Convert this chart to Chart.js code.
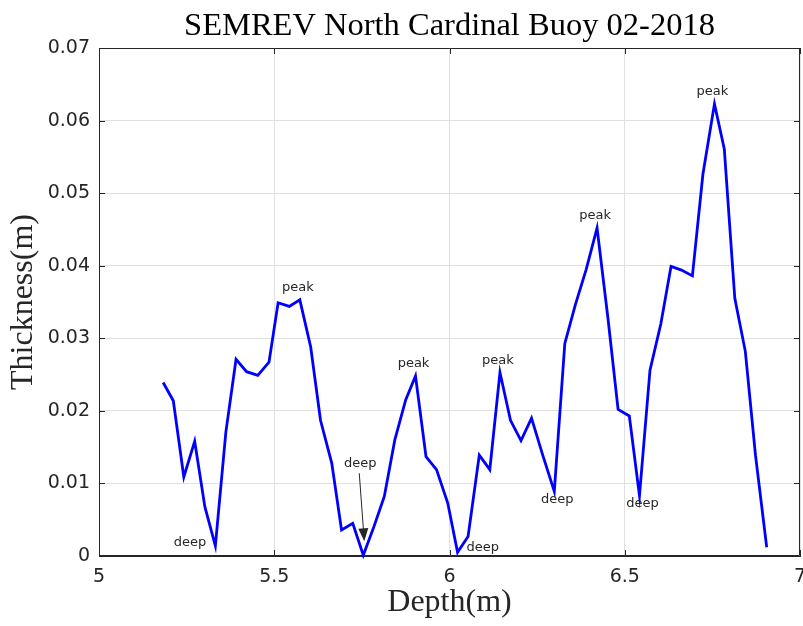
<!DOCTYPE html>
<html>
<head>
<meta charset="utf-8">
<script src="https://cdn.jsdelivr.net/npm/chart.js@4.4.1/dist/chart.umd.min.js"></script>
<style>
  html, body { margin: 0; padding: 0; background: #fff; }
  #wrap { width: 803px; height: 626px; }
</style>
</head>
<body>
<div id="wrap"><canvas id="buoyChart"></canvas></div>
<script>
// Data
const depth = [5.183, 5.212, 5.242, 5.273, 5.302, 5.332, 5.362, 5.391, 5.421, 5.453,
               5.485, 5.511, 5.543, 5.573, 5.604, 5.632, 5.664, 5.692, 5.724, 5.754,
               5.784, 5.814, 5.844, 5.875, 5.903, 5.933, 5.963, 5.995, 6.023, 6.053,
               6.085, 6.115, 6.144, 6.174, 6.204, 6.234, 6.266, 6.299, 6.329, 6.359,
               6.390, 6.421, 6.452, 6.481, 6.513, 6.542, 6.572, 6.603, 6.632, 6.662,
               6.693, 6.723, 6.756, 6.784, 6.814, 6.844, 6.873, 6.905];
const thickness = [0.0239, 0.0214, 0.0109, 0.0158, 0.0068, 0.0014, 0.0171, 0.0271, 0.0254, 0.0249,
                   0.0267, 0.0349, 0.0344, 0.0353, 0.0288, 0.0187, 0.0128, 0.0036, 0.0045, 0.0001,
                   0.0040, 0.0082, 0.0160, 0.0215, 0.0248, 0.0137, 0.0119, 0.0073, 0.0005, 0.0027,
                   0.0139, 0.0119, 0.0253, 0.0187, 0.0159, 0.0190, 0.0139, 0.0089, 0.0293, 0.0346,
                   0.0395, 0.0452, 0.0328, 0.0202, 0.0193, 0.0083, 0.0256, 0.0320, 0.0399, 0.0394,
                   0.0386, 0.0526, 0.0623, 0.0561, 0.0355, 0.0282, 0.0139, 0.0012];
const peakIdx = [13, 24, 32, 41, 52];
const deepIdx = [5, 19, 28, 37, 45];
const deepPlace = ['left', 'arrow', 'right', 'below', 'below'];
const xTicks = [5, 5.5, 6, 6.5, 7];
const yTicks = [0, 0.01, 0.02, 0.03, 0.04, 0.05, 0.06, 0.07];

const axisColor = '#262626';
const labelFont = '13px "DejaVu Sans"';

// MATLAB-like box with inward ticks on all four sides
const boxPlugin = {
    id: 'boxPlugin',
    afterDatasetsDraw(chart) {
        const { ctx, chartArea: a, scales: { x, y } } = chart;
        ctx.save();
        ctx.strokeStyle = axisColor;
        ctx.lineWidth = 1;
        ctx.beginPath();
        ctx.rect(a.left + 0.5, a.top + 0.5, a.right - a.left - 1, a.bottom - a.top - 1);
        xTicks.forEach(v => {
            const px = Math.round(x.getPixelForValue(v)) + 0.5;
            ctx.moveTo(px, a.bottom); ctx.lineTo(px, a.bottom - 6);
            ctx.moveTo(px, a.top); ctx.lineTo(px, a.top + 6);
        });
        yTicks.forEach(v => {
            const py = Math.round(y.getPixelForValue(v)) + 0.5;
            ctx.moveTo(a.left, py); ctx.lineTo(a.left + 6, py);
            ctx.moveTo(a.right, py); ctx.lineTo(a.right - 6, py);
        });
        ctx.stroke();
        ctx.restore();
    }
};

// peak / deep text annotations
const annotate = {
    id: 'annotate',
    afterDatasetsDraw(chart) {
        const { ctx, scales: { x, y } } = chart;
        ctx.save();
        ctx.font = labelFont;
        ctx.fillStyle = axisColor;
        ctx.strokeStyle = axisColor;
        ctx.textBaseline = 'middle';
        ctx.textAlign = 'center';
        peakIdx.forEach(i => {
            ctx.fillText('peak', x.getPixelForValue(depth[i]) - 2, y.getPixelForValue(thickness[i]) - 12);
        });
        deepIdx.forEach((i, k) => {
            const px = x.getPixelForValue(depth[i]);
            const py = y.getPixelForValue(thickness[i]);
            const place = deepPlace[k];
            if (place === 'left') {
                ctx.textAlign = 'right';
                ctx.fillText('deep', px - 9, py - 3);
            } else if (place === 'right') {
                ctx.textAlign = 'left';
                ctx.fillText('deep', px + 9, py - 5);
            } else if (place === 'below') {
                ctx.textAlign = 'center';
                ctx.fillText('deep', px + 3, py + 8);
            } else {
                ctx.textAlign = 'center';
                ctx.fillText('deep', px - 3, py - 92);
                // arrow
                const x0 = px - 4, y0 = py - 82, x1 = px + 1, y1 = py - 14;
                const ang = Math.atan2(y1 - y0, x1 - x0);
                ctx.lineWidth = 1;
                ctx.beginPath();
                ctx.moveTo(x0, y0);
                ctx.lineTo(x1 - 10 * Math.cos(ang), y1 - 10 * Math.sin(ang));
                ctx.stroke();
                ctx.beginPath();
                ctx.moveTo(x1, y1);
                ctx.lineTo(x1 - 13 * Math.cos(ang) + 5 * Math.sin(ang), y1 - 13 * Math.sin(ang) - 5 * Math.cos(ang));
                ctx.lineTo(x1 - 13 * Math.cos(ang) - 5 * Math.sin(ang), y1 - 13 * Math.sin(ang) + 5 * Math.cos(ang));
                ctx.closePath();
                ctx.fill();
            }
        });
        ctx.restore();
    }
};

const ctx = document.getElementById('buoyChart').getContext('2d');
new Chart(ctx, {
    type: 'line',
    data: {
        datasets: [{
            data: depth.map((d, i) => ({ x: d, y: thickness[i] })),
            borderColor: '#0000ff',
            borderWidth: 2.8,
            pointRadius: 0,
            tension: 0,
            fill: false,
            clip: false
        }]
    },
    options: {
        responsive: true,
        maintainAspectRatio: false,
        animation: false,
        layout: { padding: 0 },
        plugins: {
            legend: { display: false },
            tooltip: { enabled: false },
            title: {
                display: true,
                fullSize: false,
                text: 'SEMREV North Cardinal Buoy 02-2018',
                color: '#000',
                font: { family: '"Liberation Serif"', size: 32.5, weight: 'normal' },
                padding: { top: 7, bottom: 2 }
            }
        },
        scales: {
            x: {
                type: 'linear',
                min: 5,
                max: 7,
                afterBuildTicks: s => { s.ticks = xTicks.map(v => ({ value: v })); },
                afterFit: s => { s.height = 70; s.paddingRight = 3; },
                grid: { color: '#e0e0e0', drawTicks: false },
                border: { color: axisColor },
                ticks: {
                    color: axisColor,
                    padding: 10,
                    font: { family: '"DejaVu Sans"', size: 19 },
                    callback: v => String(v)
                },
                title: {
                    display: true,
                    text: 'Depth(m)',
                    color: axisColor,
                    font: { family: '"Liberation Serif"', size: 32 },
                    padding: { top: 0, bottom: 4 }
                }
            },
            y: {
                min: 0,
                max: 0.07,
                afterBuildTicks: s => { s.ticks = yTicks.map(v => ({ value: v })); },
                afterFit: s => { s.width = 99; },
                grid: { color: '#e0e0e0', drawTicks: false },
                border: { color: axisColor },
                ticks: {
                    color: axisColor,
                    padding: 9,
                    font: { family: '"DejaVu Sans"', size: 19 },
                    callback: v => String(+v.toFixed(2))
                },
                title: {
                    display: true,
                    text: 'Thickness(m)',
                    color: axisColor,
                    font: { family: '"Liberation Serif"', size: 32 },
                    padding: { top: 4, bottom: 0 }
                }
            }
        }
    },
    plugins: [boxPlugin, annotate]
});
</script>
</body>
</html>
